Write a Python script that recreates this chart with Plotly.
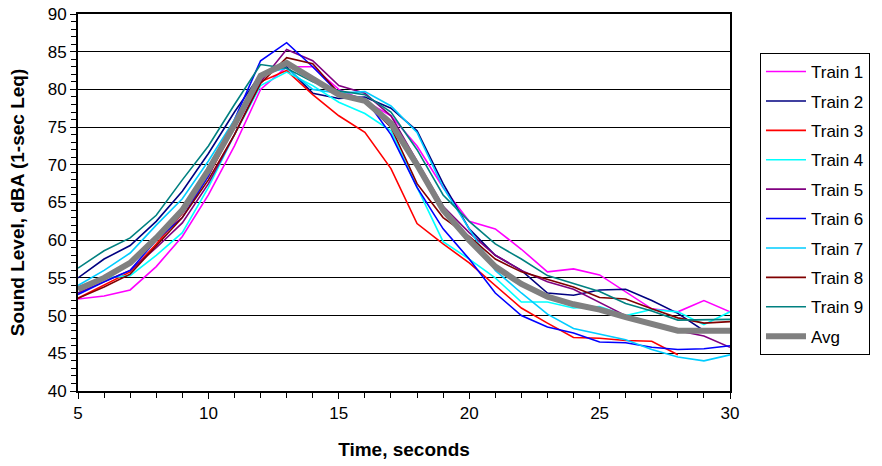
import plotly.graph_objects as go

time_s = list(range(5, 31))

train1 = [52.2, 52.6, 53.4, 56.5, 60.5, 66.0, 72.5, 80.0, 83.0, 83.0, 80.0, 78.5, 76.5, 72.5, 67.0, 62.5, 61.5, 58.8, 55.8, 56.2, 55.4, 53.2, 50.9, 50.5, 52.0, 50.5]
train2 = [55.0, 57.5, 59.3, 62.5, 66.5, 71.5, 77.0, 82.0, 83.0, 79.5, 78.8, 79.0, 77.5, 74.5, 67.5, 61.5, 58.0, 56.0, 53.0, 52.7, 53.4, 53.5, 52.0, 50.3, 48.0, 48.0]
train3 = [52.3, 54.0, 55.8, 59.5, 63.5, 68.5, 75.0, 81.0, 82.5, 79.3, 76.5, 74.3, 69.5, 62.2, 59.5, 57.0, 54.0, 51.0, 49.0, 47.1, 47.0, 46.7, 46.6, 44.8, None, None]
train4 = [53.5, 55.0, 55.3, 58.0, 61.0, 67.0, 74.0, 80.5, 82.3, 80.5, 78.3, 76.8, 74.5, 67.0, 59.8, 57.5, 55.0, 51.8, 51.8, 51.0, 51.2, 50.0, 50.8, 50.5, 48.8, 50.5]
train5 = [53.0, 54.5, 56.0, 59.0, 62.3, 67.5, 74.0, 81.0, 85.3, 83.8, 80.5, 79.5, 76.5, 70.5, 64.5, 61.0, 58.0, 56.0, 54.5, 53.5, 51.8, 50.0, 48.7, 48.0, 47.3, 45.8]
train6 = [52.8, 54.5, 56.0, 60.0, 63.0, 68.5, 76.0, 83.8, 86.2, 83.0, 79.5, 78.8, 74.0, 67.0, 61.5, 57.5, 53.0, 50.0, 48.5, 47.7, 46.5, 46.4, 45.8, 45.5, 45.6, 46.0]
train7 = [54.0, 56.0, 58.3, 62.0, 65.5, 70.5, 76.0, 82.0, 82.8, 80.0, 79.5, 79.7, 77.8, 74.3, 67.0, 61.5, 56.0, 53.0, 50.2, 48.3, 47.5, 46.8, 45.5, 44.5, 44.0, 44.8]
train8 = [52.3, 53.8, 55.5, 59.3, 63.0, 68.0, 74.0, 80.8, 84.2, 83.4, 79.5, 78.3, 75.0, 67.5, 63.0, 60.5, 57.5, 55.8, 54.8, 53.8, 52.4, 52.2, 50.9, 49.7, 49.0, 49.2]
train9 = [56.3, 58.6, 60.3, 63.3, 68.0, 72.5, 78.0, 83.3, 82.8, 81.0, 79.8, 79.3, 77.0, 72.0, 66.0, 62.5, 59.5, 57.5, 55.3, 54.3, 53.2, 51.6, 50.6, 49.4, 49.5, 49.5]
avg = [53.5, 55.0, 57.0, 60.3, 64.0, 69.3, 75.3, 81.8, 83.5, 81.5, 79.3, 78.5, 75.5, 70.0, 64.0, 60.0, 56.5, 54.2, 52.5, 51.5, 50.8, 49.8, 49.0, 48.0, 48.0, 48.0]

names = ["Train 1", "Train 2", "Train 3", "Train 4", "Train 5", "Train 6", "Train 7", "Train 8", "Train 9", "Avg"]
series = [train1, train2, train3, train4, train5, train6, train7, train8, train9, avg]
colors = ["#FF00FF", "#000080", "#FF0000", "#00FFFF", "#800080", "#0000FF", "#00CCFF", "#800000", "#008080", "#808080"]
widths = [1.6, 1.6, 1.6, 1.6, 1.6, 1.6, 1.6, 1.6, 1.6, 6]

fig = go.Figure()
for i, (n, s, c, w) in enumerate(zip(names, series, colors, widths)):
    fig.add_trace(go.Scatter(x=time_s, y=s, name=n, mode="lines",
                             line=dict(color=c, width=w), legendgroup=f"g{i}"))

fam = "Liberation Sans, Arial, sans-serif"
fig.update_layout(
    width=882, height=466,
    margin=dict(l=78, r=152, t=14, b=75),
    paper_bgcolor="white", plot_bgcolor="white",
    font=dict(family=fam, size=17, color="black"),
    showlegend=True,
    legend=dict(x=1.046, y=0.8966, xanchor="left", yanchor="top",
                bordercolor="black", borderwidth=1, bgcolor="white",
                font=dict(family=fam, size=17, color="black"),
                tracegroupgap=4.3, itemwidth=40),
    xaxis=dict(range=[5, 30], dtick=5, tick0=5, showgrid=False, zeroline=False, automargin=False,
               showline=True, linecolor="black", linewidth=2, mirror=True,
               ticks="outside", ticklen=6, tickcolor="black", tickwidth=1,
               minor=dict(dtick=1, ticks="outside", ticklen=5, tickcolor="black", showgrid=False),
               title=dict(text="<b>Time, seconds</b>", font=dict(size=19), standoff=20)),
    yaxis=dict(range=[40, 90], dtick=5, tick0=40, showgrid=True, gridcolor="black", gridwidth=1,
               zeroline=False, showline=True, linecolor="black", linewidth=2, mirror=True, automargin=False,
               ticks="outside", ticklen=6, tickcolor="black", tickwidth=1,
               minor=dict(dtick=1, ticks="outside", ticklen=5, tickcolor="black", showgrid=False),
               title=dict(text="<b>Sound Level, dBA (1-sec Leq)</b>", font=dict(size=19), standoff=18)),
)

fig.write_html("out.html", config={"displayModeBar": False},
               post_script="document.body.style.margin='0';")
